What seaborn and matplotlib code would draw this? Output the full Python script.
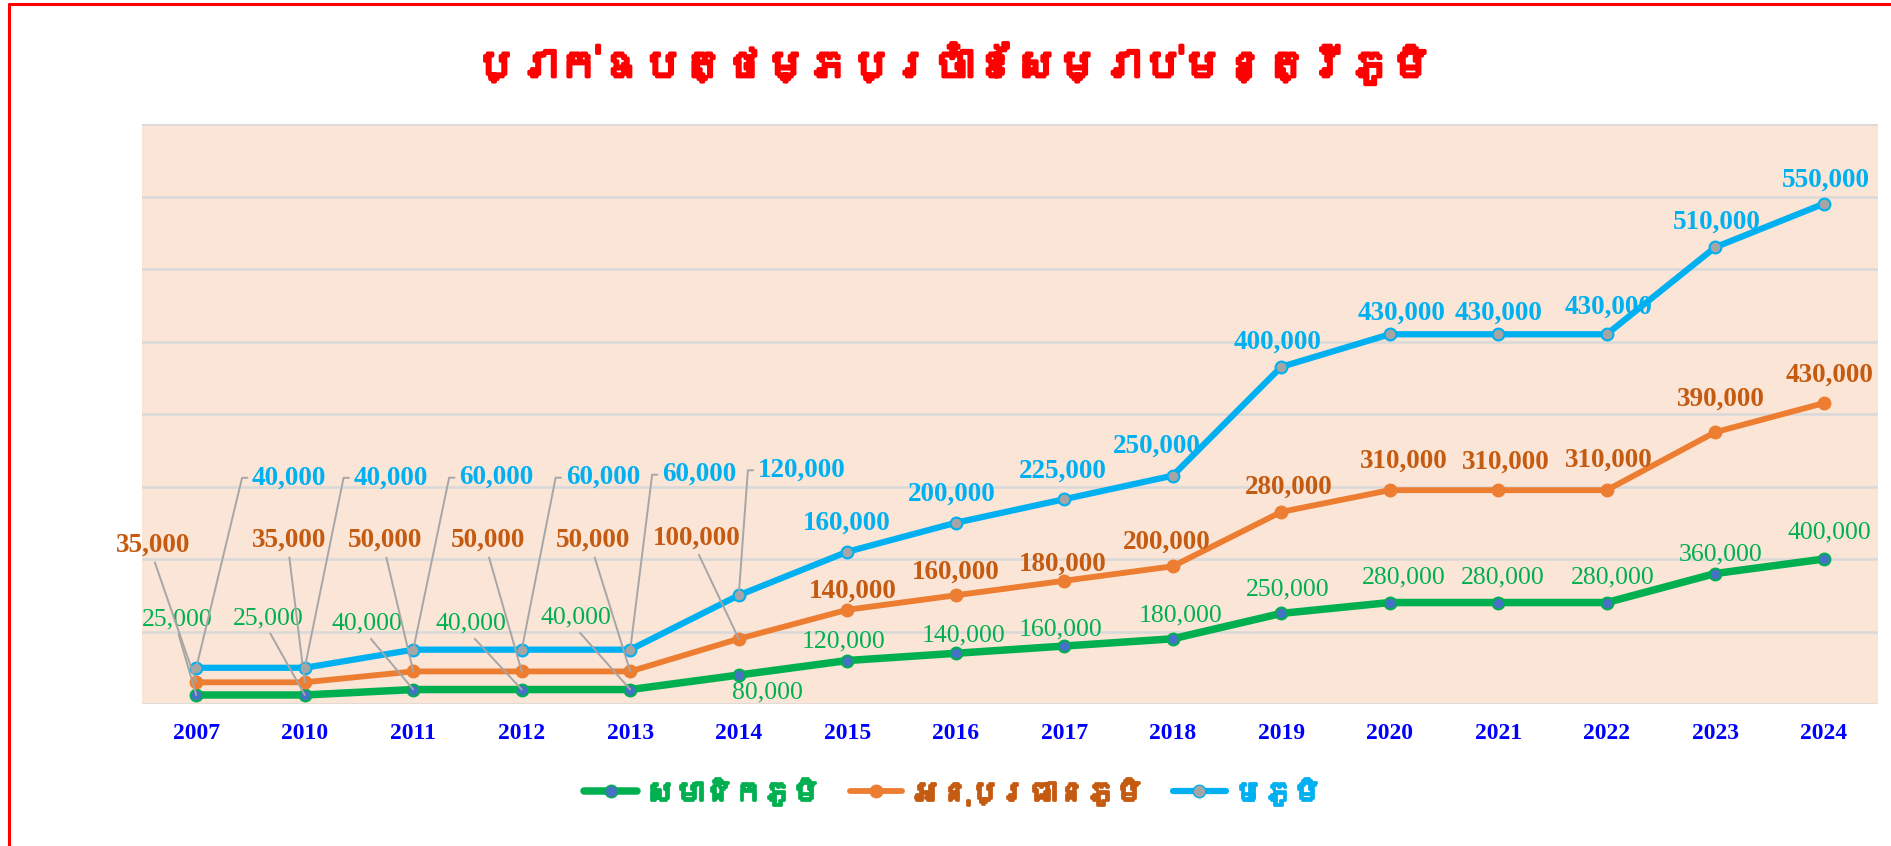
import matplotlib
matplotlib.use("Agg")
import matplotlib.pyplot as plt
import matplotlib.patheffects as pe
from matplotlib import font_manager
from matplotlib.ft2font import FT2Font
from matplotlib.lines import Line2D
import numpy as np
import pandas as pd
import seaborn as sns

# == DATA ==
years = ["2007", "2010", "2011", "2012", "2013", "2014", "2015", "2016",
         "2017", "2018", "2019", "2020", "2021", "2022", "2023", "2024"]
member = [25000, 25000, 40000, 40000, 40000, 80000, 120000, 140000,
          160000, 180000, 250000, 280000, 280000, 280000, 360000, 400000]
deputy = [35000, 35000, 50000, 50000, 50000, 100000, 140000, 160000,
          180000, 200000, 280000, 310000, 310000, 310000, 390000, 430000]
chief = [40000, 40000, 60000, 60000, 60000, 120000, 160000, 200000,
         225000, 250000, 400000, 430000, 430000, 430000, 510000, 550000]
series_names = ["សមាជិកភូមិ", "អនុប្រធានភូមិ", "មេភូមិ"]
title = "ប្រាក់ឧបត្ថម្ភប្រចាំខែសម្រាប់មន្ត្រីភូមិ"

# == LABEL LAYOUT (offsets in pixels from the point; first ones use leader lines) ==
member_offsets = [(-19, 76), (-37, 77), (-46, 66), (-51, 66), (-54, 72), (29, -17),
                  (-4, 19), (8, 18), (-4, 17), (8, 23), (6, 24), (14, 25),
                  (5, 25), (6, 25), (5, 19), (6, 27)]
deputy_offsets = [(-43, 137), (-16, 142), (-28, 131), (-34, 131), (-37, 131), (-42, 101),
                  (6, 19), (0, 23), (-1, 17), (-6, 24), (8, 25), (14, 29),
                  (8, 28), (2, 30), (6, 33), (6, 28)]
chief_offsets = [(93, 190), (86, 190), (83, 172), (81, 172), (69, 175), (63, 125),
                 (0, 29), (-4, 29), (-1, 28), (-16, 29), (-4, 25), (12, 21),
                 (0, 21), (2, 27), (2, 25), (2, 24)]
member_leaders = [0, 1, 2, 3, 4]
deputy_leaders = [0, 1, 2, 3, 4, 5]
chief_leaders = [0, 1, 2, 3, 4, 5]


def find_khmer_font():
    """Return the name of an installed font with Khmer glyphs, if any."""
    for f in font_manager.fontManager.ttflist:
        try:
            if 0x1780 in FT2Font(f.fname).get_charmap():
                return f.name
        except Exception:
            continue
    return None


sns.set_style("white")
khmer = find_khmer_font()
khmer_family = [khmer, "DejaVu Sans"] if khmer else ["DejaVu Sans"]
plt.rcParams["font.family"] = ["Liberation Serif", "DejaVu Sans"]

# stacked line chart: each line sits on top of the previous one
df = pd.DataFrame({"idx": np.arange(len(years)), "member": member,
                   "deputy": deputy, "chief": chief})
df["top_member"] = df["member"]
df["top_deputy"] = df["top_member"] + df["deputy"]
df["top_chief"] = df["top_deputy"] + df["chief"]

fig = plt.figure(figsize=(18.91, 8.46), dpi=100)
ax = fig.add_axes([0.0751, 0.1678, 0.918, 0.6856])
ax.set_facecolor("#FBE5D6")

styles = [
    # value col, top col, line colour, marker face, label colour, weight, lw, offsets, leaders
    ("member", "top_member", "#00B050", "#4472C4", "#00B050", "normal", 5.4, member_offsets, member_leaders),
    ("deputy", "top_deputy", "#ED7D31", "#ED7D31", "#C55A11", "bold", 4.2, deputy_offsets, deputy_leaders),
    ("chief", "top_chief", "#00B0F0", "#A5A5A5", "#00B0F0", "bold", 4.5, chief_offsets, chief_leaders),
]

handles = []
for name, (col, top, lc, mfc, tc, weight, lw, offsets, leaders) in zip(series_names, styles):
    sns.lineplot(data=df, x="idx", y=top, color=lc, linewidth=lw, marker="o",
                 markersize=8.5, markerfacecolor=mfc, markeredgecolor=lc,
                 markeredgewidth=1.5, ax=ax)
    handles.append(Line2D([], [], color=lc, lw=lw, marker="o", markersize=9,
                          markerfacecolor=mfc, markeredgecolor=lc))
    for i in df["idx"]:
        dx, dy = offsets[i]
        arrow = None
        if i in leaders:
            if col == "chief":
                arrow = dict(arrowstyle="-", color="#A6A6A6", lw=1.4, relpos=(0, 0.5),
                             shrinkA=1, shrinkB=0,
                             connectionstyle="arc,angleA=180,armA=10,angleB=90,armB=0,rad=0")
            else:
                arrow = dict(arrowstyle="-", color="#A6A6A6", lw=1.4, relpos=(0.5, 0),
                             shrinkA=1, shrinkB=0)
        ax.annotate(f"{df[col][i]:,}", xy=(i, df[top][i]), xytext=(dx, dy),
                    textcoords="offset pixels", ha="center", va="center",
                    color=tc, fontsize=19.5 if weight == "bold" else 18.5,
                    fontweight=weight, arrowprops=arrow, zorder=5)

ax.set_xlim(-0.5, len(years) - 0.5)
ax.set_ylim(0, 1600000)
ax.set_yticks(np.arange(0, 1600001, 200000))
ax.set_xticks(df["idx"])
ax.set_xticklabels(years)
ax.yaxis.grid(True, color="#D9D9D9", linewidth=1.8)
ax.xaxis.grid(False)
ax.tick_params(axis="y", length=0, labelleft=False)
ax.tick_params(axis="x", length=0, pad=14, labelsize=17, labelcolor="#0000FF")
for lab in ax.get_xticklabels():
    lab.set_fontweight("bold")
ax.set_xlabel("")
ax.set_ylabel("")
sns.despine(ax=ax, left=True, bottom=True)

# the Khmer font has no bold face, so thicken it with a stroke of the same colour
fig.text(0.504, 0.925, title, color="#FF0000", fontsize=30, fontweight="bold",
         family=khmer_family, ha="center", va="center",
         path_effects=[pe.withStroke(linewidth=2.5, foreground="#FF0000")])

leg = fig.legend(handles, series_names, loc="center", bbox_to_anchor=(0.504, 0.064),
                 ncol=3, frameon=False, handlelength=1.8, handletextpad=0.3,
                 columnspacing=1.0,
                 prop={"family": khmer_family, "size": 21, "weight": "bold"})
for txt, st in zip(leg.get_texts(), styles):
    txt.set_color(st[4])
    txt.set_path_effects([pe.withStroke(linewidth=2, foreground=st[4])])

# red frame on the left and top edges
fig.add_artist(Line2D([8.5 / 1891, 8.5 / 1891], [0, 1 - 4.5 / 846], color="#FF0000", lw=2.2))
fig.add_artist(Line2D([8.5 / 1891, 1], [1 - 4.5 / 846, 1 - 4.5 / 846], color="#FF0000", lw=2.2))

fig.savefig("out.png", dpi=100)
